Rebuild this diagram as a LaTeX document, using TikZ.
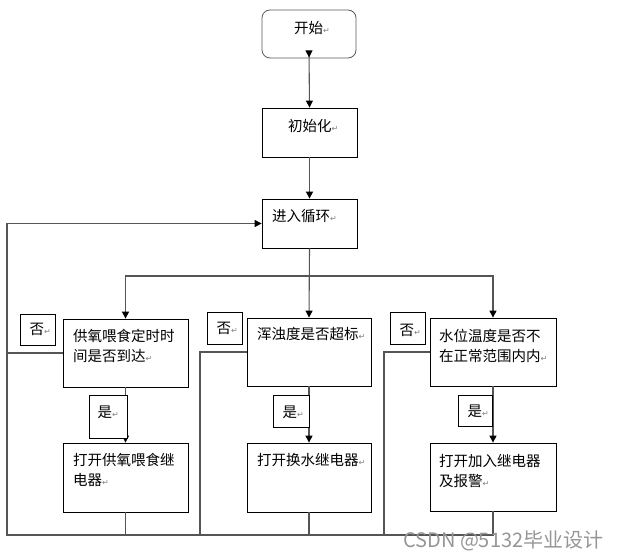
\documentclass[tikz,border=0pt]{standalone}
\usepackage{fontspec}
\newfontfamily\cjk{Noto Sans CJK SC}
\newfontfamily\djv{DejaVu Sans}
\usetikzlibrary{arrows.meta}
\newcommand{\pmk}{{\djv\fontsize{8}{8}\selectfont\color{gray}↵}}
\tikzset{
  box/.style={draw=black, line width=0.8pt, inner sep=0pt, fill=white},
  tag/.style={draw=black, line width=0.8pt, inner sep=0pt, fill=white},
  txt/.style={inner sep=0pt, anchor=west, align=left, font=\cjk\fontsize{14.5}{20}\selectfont},
  conn/.style={draw={rgb,255:red,85;green,85;blue,85}, line width=1.1pt},
  tip/.tip={Triangle[length=7pt,width=7pt,fill=black,color=black]},
}
\begin{document}
\begin{tikzpicture}[x=1pt,y=-1pt]
\useasboundingbox (0,0) rectangle (618,559);
% main boxes
\node[box, rounded corners=8pt, draw={rgb,255:red,90;green,90;blue,90}, minimum width=94pt, minimum height=48pt] (start) at (309,34) {};
\node[box, minimum width=95pt, minimum height=49pt] (init) at (309.5,132.5) {};
\node[box, minimum width=95pt, minimum height=49pt] (loop) at (309.5,223.5) {};
\node[box, minimum width=125pt, minimum height=68pt] (d1) at (125.5,353) {};
\node[box, minimum width=124pt, minimum height=68pt] (d2) at (309,352) {};
\node[box, minimum width=126pt, minimum height=68pt] (d3) at (493,352) {};
\node[box, minimum width=125pt, minimum height=69pt] (a1) at (125.5,477.5) {};
\node[box, minimum width=124pt, minimum height=69pt] (a2) at (309,477.5) {};
\node[box, minimum width=126pt, minimum height=68pt] (a3) at (493,477) {};
% helper coordinates
\coordinate (br) at (309,276);
\coordinate (bl) at (7,535);
\coordinate (c2) at (200,535);
\coordinate (c3) at (384,535);
% connectors
\draw[conn, {Triangle[reversed,length=7pt,width=7pt,fill=black,color=black]}-tip] ([yshift=8pt]start.south) -- (init.north);
\draw[conn, -tip] (init.south) -- (loop.north);
\draw[conn, -tip] (loop.south) -- (d2.north);
\draw[conn, -tip] (br) -| (d1.north);
\draw[conn, -tip] (br) -| (d3.north);
\draw[conn, -tip] (d1.south) -- (a1.north);
\draw[conn, -tip] (d2.south) -- (a2.north);
\draw[conn, -tip] (d3.south) -- (a3.north);
\draw[conn] (a1.south) -- (a1.south |- bl);
\draw[conn] (a2.south) -- (a2.south |- bl);
\draw[conn, -tip] (a3.south) |- (bl) |- (loop.west);
\draw[conn] (d1.west) -- (d1.west -| bl);
\draw[conn] (d2.west) -| (c2);
\draw[conn] (d3.west) -| (c3);
% yes / no tags
\node[tag, minimum width=35pt, minimum height=31pt] (n1) at (37.5,329.5) {};
\node[tag, minimum width=35pt, minimum height=32pt] (n2) at (224.5,328) {};
\node[tag, minimum width=35pt, minimum height=32pt] (n3) at (407.5,328) {};
\node[tag, minimum width=38pt, minimum height=43pt] (y1) at (108,416.5) {};
\node[tag, minimum width=36pt, minimum height=32pt] (y2) at (291,411) {};
\node[tag, minimum width=34pt, minimum height=31pt] (y3) at (475,410.5) {};
% texts
\node[txt] (tstart) at (294,28) {开始\pmk};
\node[txt] (tinit) at (288,126) {初始化\pmk};
\node[txt] (tloop) at (272,216) {进入循环\pmk};
\node[txt] (td1) at (73,346) {供氧喂食定时时\\间是否到达\pmk};
\node[txt] (td2) at (257,334) {浑浊度是否超标\pmk};
\node[txt] (td3) at (439,346) {水位温度是否不\\在正常范围内内\pmk};
\node[txt] (ta1) at (73,470) {打开供氧喂食继\\电器\pmk};
\node[txt] (ta2) at (257,460) {打开换水继电器\pmk};
\node[txt] (ta3) at (439,470.5) {打开加入继电器\\及报警\pmk};
\node[txt] (tn1) at (29.5,329) {否\pmk};
\node[txt] (tn2) at (216.5,328) {否\pmk};
\node[txt] (tn3) at (399.5,330) {否\pmk};
\node[txt] (ty1) at (97.5,412) {是\pmk};
\node[txt] (ty2) at (282.5,412) {是\pmk};
\node[txt] (ty3) at (467.5,411) {是\pmk};
% watermark
\node[inner sep=0pt, anchor=west, text={rgb,255:red,150;green,150;blue,150}, font=\cjk\fontsize{20}{20}\selectfont] (wm) at (403,541) {CSDN @5132毕业设计};
\end{tikzpicture}
\end{document}
